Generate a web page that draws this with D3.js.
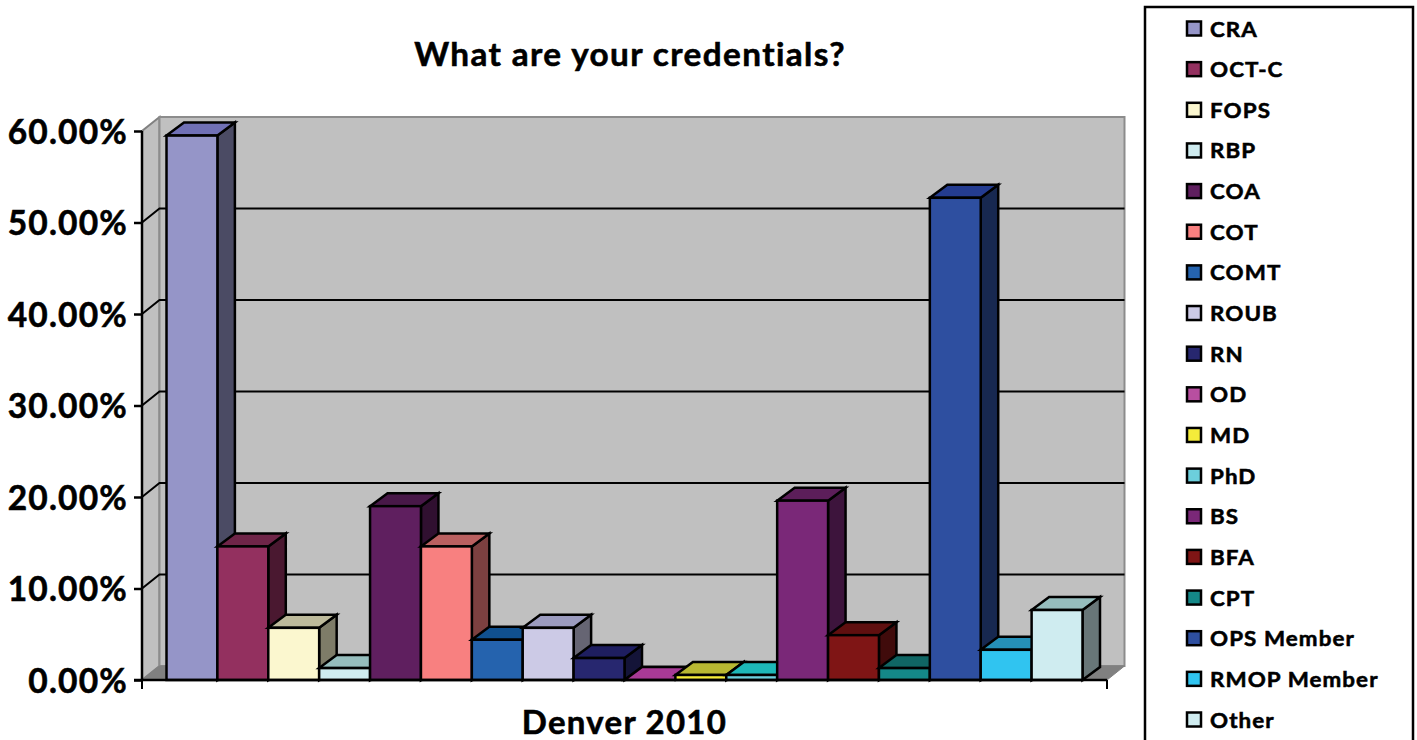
<!DOCTYPE html>
<html><head><meta charset="utf-8">
<script src="https://cdn.jsdelivr.net/npm/d3@7"></script>
<style>html,body{margin:0;padding:0;background:#fff;overflow:hidden}svg{display:block}text{font-family:Lato,"Open Sans",sans-serif;font-weight:700;fill:#000;stroke:#000;stroke-width:0.55px}</style>
</head><body><svg id="c" width="1417" height="740"></svg>
<script>
const title = "What are your credentials?";
const category = "Denver 2010";
const names = ["CRA","OCT-C","FOPS","RBP","COA","COT","COMT","ROUB","RN","OD","MD","PhD","BS","BFA","CPT","OPS Member","RMOP Member","Other"];
const values = [0.595,0.146,0.057,0.013,0.190,0.146,0.044,0.057,0.024,0,0.0055,0.0055,0.196,0.049,0.013,0.527,0.033,0.0765];
const colors = ["#9595C8","#93305F","#FBF7CF","#CFECF0","#5F1F5F","#F88080","#2563AE","#CCCAE6","#27276F","#B84FA0","#F4EC3A","#6CCFDC","#7A2878","#7F1515","#148888","#2E4FA0","#30C4F0","#CFECF0"];
const topColors = ["#7070B5","#6F2548","#BDBA9B","#96BDBD","#481848","#BA6060","#10508F","#9B9BBF","#1E1E60","#A83A96","#B8B832","#1DB8B8","#5C1E5A","#5F0F0F","#106664","#243C90","#2590B8","#96BDBD"];
const tickValues = [0,0.1,0.2,0.3,0.4,0.5,0.6];

const svg = d3.select("#c");
const dx = 17.5, dy = -14, barDy = -13;
const y = d3.scaleLinear().domain([0,0.6]).range([680,131]);
const xOuter = d3.scaleBand().domain([category]).range([142,1107]);
const x = d3.scaleBand().domain(names).range([166.5,1082.5]);
const line = d3.line();
const x0 = xOuter.range()[0], x1 = xOuter.range()[1];
const scaleRgb = (hex,k)=>{const c=d3.rgb(hex);return d3.rgb(c.r*k,c.g*k,c.b*k).formatHex();};

// walls
svg.append("path").attr("d", line([[x0,y(0)],[x0,y(0.6)],[x0+dx,y(0.6)+dy],[x0+dx,y(0)+dy]])+"Z").attr("fill","#C0C0C0").attr("stroke","#808080").attr("stroke-width",2);
svg.append("path").attr("d", line([[x0+dx,y(0)+dy],[x0+dx,y(0.6)+dy],[x1+dx,y(0.6)+dy],[x1+dx,y(0)+dy]])+"Z").attr("fill","#C0C0C0").attr("stroke","#8C8C8C").attr("stroke-width",2);
svg.append("path").attr("d", line([[x0,y(0)],[x0+dx,y(0)+dy],[x1+dx,y(0)+dy],[x1,y(0)]])+"Z").attr("fill","#808080").attr("stroke","#808080");
// gridlines
tickValues.filter(d=>d>0&&d<0.6).forEach(d=>{
  svg.append("path").attr("d", line([[x0,y(d)],[x0+dx,y(d)+dy],[x1+dx,y(d)+dy]])).attr("fill","none").attr("stroke","#000").attr("stroke-width",2);
});

// bars
names.forEach((n,i)=>{
  const l=x(n), r=l+x.bandwidth(), t=y(values[i]), b=y(0);
  const g=svg.append("g").attr("stroke","#000").attr("stroke-width",2.5);
  g.append("path").attr("d",line([[r,t],[r+dx,t+barDy],[r+dx,b+barDy],[r,b]])+"Z").attr("fill",scaleRgb(colors[i],0.5));
  g.append("path").attr("d",line([[l,t],[l+dx,t+barDy],[r+dx,t+barDy],[r,t]])+"Z").attr("fill",topColors[i]);
  if(values[i]>0) g.append("rect").attr("x",l).attr("y",t).attr("width",r-l).attr("height",b-t).attr("fill",colors[i]);
});

// axes
const ay = svg.append("g").attr("transform",`translate(${x0},0)`).call(d3.axisLeft(y).tickValues(tickValues).tickFormat(d3.format(".2%")).tickSize(8).tickPadding(7));
ay.selectAll("text").style("font-size","33.5px").style("letter-spacing","1.2px").attr("dy","0.36em").attr("x",0).attr("transform","translate(-14,0)");
ay.selectAll("line,path").attr("stroke","#000").attr("stroke-width",2.5);
ay.select("path").attr("d",`M0,${y(0.6)}V${y(0)}`);
const ax = svg.append("g");
ax.append("line").attr("x1",x0-8).attr("x2",x1).attr("y1",y(0)).attr("y2",y(0)).attr("stroke","#000").attr("stroke-width",2.5);
[x0,x1].forEach(v=>ax.append("line").attr("x1",v).attr("x2",v).attr("y1",y(0)).attr("y2",689).attr("stroke","#000").attr("stroke-width",2));
ax.append("text").attr("transform",`translate(${xOuter(category)+xOuter.bandwidth()/2},734) scale(1.03,1)`).attr("text-anchor","middle").style("font-size","32px").style("letter-spacing","1.25px").text(category);
svg.append("text").attr("transform","translate(630,66) scale(1.04,1)").attr("text-anchor","middle").style("font-size","32px").style("letter-spacing","1.35px").text(title);

// legend
svg.append("rect").attr("x",1145).attr("y",7).attr("width",268).attr("height",740).attr("fill","#fff").attr("stroke","#000").attr("stroke-width",2.5);
const ly = d3.scalePoint().domain(names).range([28.5,719.5]);
const lg = svg.append("g").selectAll("g").data(names).join("g").attr("transform",d=>`translate(0,${ly(d)})`);
lg.append("rect").attr("x",1187).attr("y",-7).attr("width",14).attr("height",14).attr("fill",(d,i)=>colors[i]).attr("stroke","#000").attr("stroke-width",2.5);
lg.append("text").attr("transform","translate(1210,8) scale(1.04,1)").style("font-size","21.5px").style("letter-spacing","1.05px").text(d=>d);
</script></body></html>
